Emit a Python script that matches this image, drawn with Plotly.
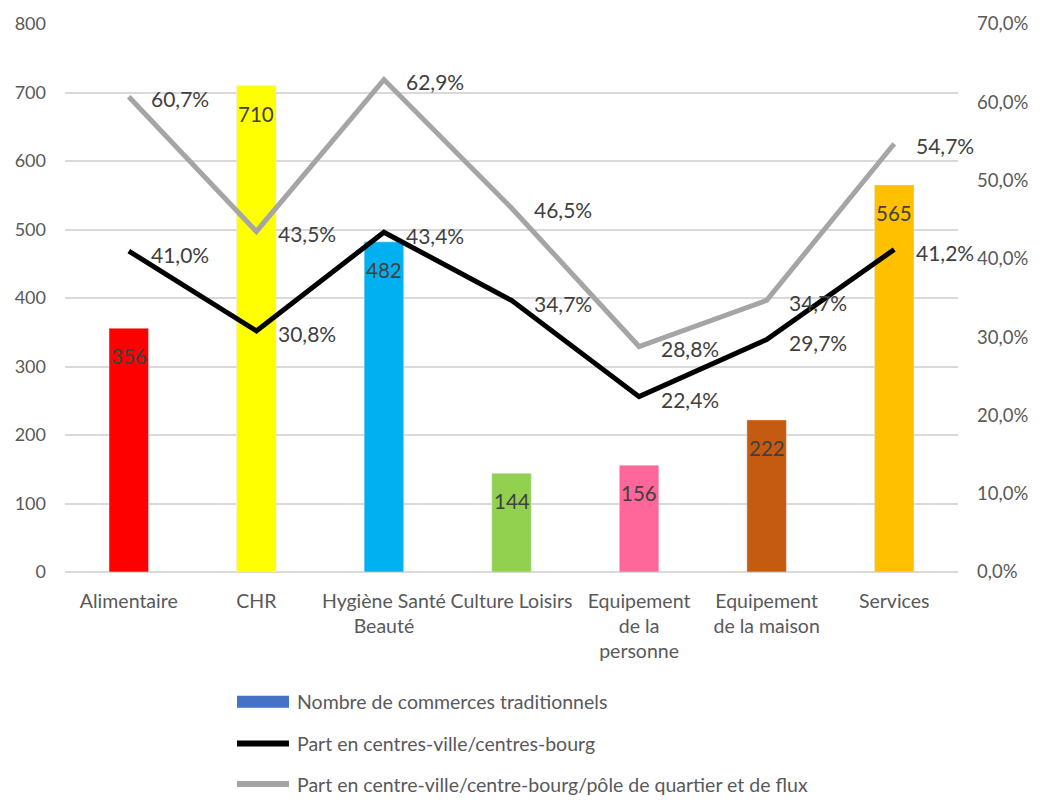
import plotly.graph_objects as go

categories = ["Alimentaire", "CHR", "Hygiène Santé<br>Beauté", "Culture Loisirs",
              "Equipement<br>de la<br>personne", "Equipement<br>de la maison", "Services"]
nombre = [356, 710, 482, 144, 156, 222, 565]
bar_colors = ["#FF0000", "#FFFF00", "#00B0F0", "#92D050", "#FF6699", "#C55A11", "#FFC000"]
part_cv = [41.0, 30.8, 43.4, 34.7, 22.4, 29.7, 41.2]
part_cv_pole = [60.7, 43.5, 62.9, 46.5, 28.8, 34.7, 54.7]

names = ["Nombre de commerces traditionnels",
         "Part en centres-ville/centres-bourg",
         "Part en centre-ville/centre-bourg/pôle de quartier et de flux"]

FONT = "Lato"
TXT = "#595959"
LBL = "#404040"

def pct(v):
    return f"{v:.1f}%".replace(".", ",")

fig = go.Figure()
fig.add_trace(go.Bar(x=categories, y=nombre, marker_color=bar_colors, width=0.31,
                     name=names[0], showlegend=False, yaxis="y"))
fig.add_trace(go.Scatter(x=categories, y=part_cv, mode="lines", yaxis="y2",
                         line=dict(color="#000000", width=5), name=names[1], showlegend=False))
fig.add_trace(go.Scatter(x=categories, y=part_cv_pole, mode="lines", yaxis="y2",
                         line=dict(color="#A5A5A5", width=5), name=names[2], showlegend=False))

ann = []
for c, v in zip(categories, nombre):
    ann.append(dict(x=c, y=v, xref="x", yref="y", text=str(v), showarrow=False,
                    yshift=-28, font=dict(family=FONT, size=20.5, color=LBL)))
for c, v in zip(categories, part_cv):
    ann.append(dict(x=c, y=v, xref="x", yref="y2", text=pct(v), showarrow=False,
                    xanchor="left", xshift=20, yshift=-3, font=dict(family=FONT, size=21, color=LBL)))
for c, v in zip(categories, part_cv_pole):
    ann.append(dict(x=c, y=v, xref="x", yref="y2", text=pct(v), showarrow=False,
                    xanchor="left", xshift=20, yshift=-2, font=dict(family=FONT, size=21, color=LBL)))

# custom legend (Excel-like wide symbols), positions given in figure pixels
leg_colors = ["#4472C4", "#000000", "#A5A5A5"]
leg_y = [703, 745, 786]
plot_left, plot_right = 65, 958
plot_top, plot_bot = 19, 572
pw = plot_right - plot_left
ph = plot_bot - plot_top

def px_x(p):
    return (p - plot_left) / pw

def px_y(p):
    return (plot_bot - p) / ph

shapes = []
for i, (nm, col, yy) in enumerate(zip(names, leg_colors, leg_y)):
    if i == 0:
        shapes.append(dict(type="rect", xref="paper", yref="paper",
                           x0=px_x(237), x1=px_x(289), y0=px_y(yy + 6), y1=px_y(yy - 6),
                           fillcolor=col, line=dict(width=0), layer="above"))
    else:
        shapes.append(dict(type="line", xref="paper", yref="paper",
                           x0=px_x(237), x1=px_x(289), y0=px_y(yy), y1=px_y(yy),
                           line=dict(color=col, width=6)))
    ann.append(dict(xref="paper", yref="paper", x=px_x(295), y=px_y(yy), yanchor="middle",
                    xanchor="left", text=nm, showarrow=False,
                    font=dict(family=FONT, size=19.5, color=TXT)))

fig.update_layout(
    width=1052, height=808,
    margin=dict(l=plot_left, r=1052 - plot_right, t=plot_top, b=808 - plot_bot),
    paper_bgcolor="white", plot_bgcolor="white",
    separators=",.",
    font=dict(family=FONT, size=18, color=TXT),
    xaxis=dict(showgrid=False, showline=False, ticks="", tickfont=dict(size=19.5, color=TXT),
               tickangle=0, ticklabelstandoff=15, range=[-0.5, 6.5]),
    yaxis=dict(range=[0, 800], dtick=100, showgrid=True, gridcolor="#D9D9D9", gridwidth=1.5,
               zeroline=True, zerolinecolor="#D9D9D9", zerolinewidth=1.5, showline=False,
               tickfont=dict(size=18, color=TXT), ticklabelstandoff=18),
    yaxis2=dict(range=[0, 70], dtick=10, overlaying="y", side="right", showgrid=False,
                zeroline=False, showline=False, tickformat=".1f", ticksuffix="%",
                tickfont=dict(size=18.5, color=TXT), ticklabelstandoff=18),
    annotations=ann, shapes=shapes, showlegend=False,
)

fig.write_html("out.html")
